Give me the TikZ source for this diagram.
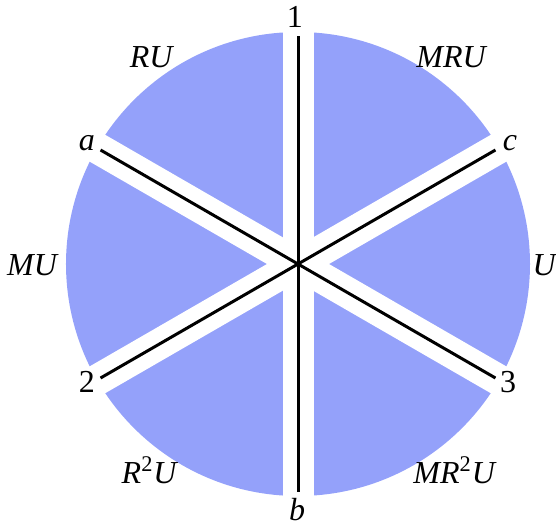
\documentclass[tikz,border=0pt]{standalone}
\usepackage{fontspec}
\setmainfont{Liberation Serif}
\usetikzlibrary{positioning}

\definecolor{sectorblue}{RGB}{148,161,250}

\begin{document}
\begin{tikzpicture}[
    x=0.5pt, y=0.5pt,
    every node/.style={font=\fontsize{16}{19}\selectfont},
    gap/.style={white, line width=15.5pt},
    axis/.style={black, line width=1.5pt},
    lbl/.style={inner sep=0pt, anchor=center}
]
\useasboundingbox (-298,-263) rectangle (258,264);

% Disk
\fill[sectorblue] (0,0) circle (232);

% White gaps along the axes
\foreach \ang in {90,150,210} {
    \draw[gap] (\ang:240) -- (\ang+180:240);
}

% Line ends
\coordinate (e1) at (90:228);
\coordinate (eb) at (270:228);
\coordinate (ea) at (150:228);
\coordinate (e3) at (-30:228);
\coordinate (ec) at (30:228);
\coordinate (e2) at (210:228);

% Axes
\draw[axis] (e1) -- (eb);
\draw[axis] (ea) -- (e3);
\draw[axis] (e2) -- (ec);

% Axis labels
\node[lbl] (one) at (-3,247) {1};
\node[lbl] (b) at (-1,-246) {\textit{b}};
\node[lbl] (a) at (-211,121) {\textit{a}};
\node[lbl] (c) at (212,121) {\textit{c}};
\node[lbl] (two) at (-211,-118) {2};
\node[lbl] (three) at (210,-118) {3};

% Sector labels
\node[lbl] (ru) at (-146,207) {\textit{RU}};
\node[lbl] (mru) at (154,207) {\textit{MRU}};
\node[lbl] (mu) at (-265,-1) {\textit{MU}};
\node[lbl] (u) at (247,-1) {\textit{U}};
\node[lbl] (rru) at (-148,-206) {\textit{R}\textsuperscript{2}\textit{U}};
\node[lbl] (mrru) at (157,-206) {\textit{MR}\textsuperscript{2}\textit{U}};

\end{tikzpicture}
\end{document}
